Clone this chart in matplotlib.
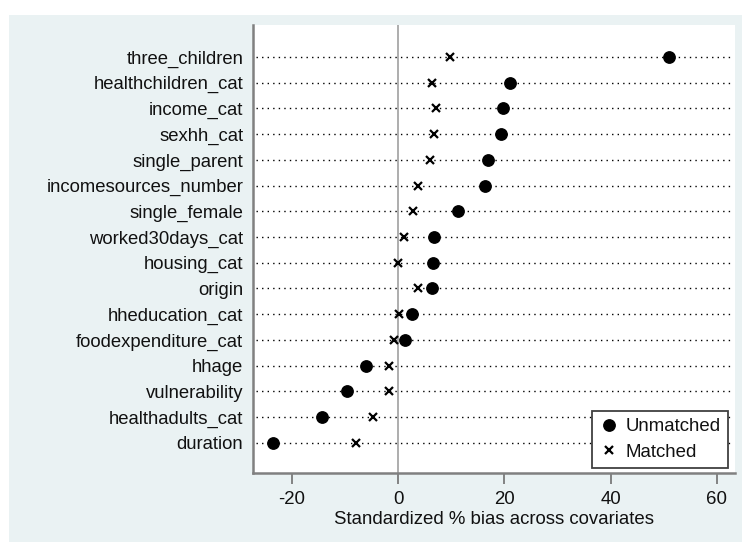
import matplotlib
matplotlib.use("Agg")
import matplotlib.pyplot as plt
from matplotlib.patches import Rectangle

plt.rcParams['font.family'] = ['Liberation Sans', 'DejaVu Sans']

covariates = ["three_children", "healthchildren_cat", "income_cat", "sexhh_cat",
              "single_parent", "incomesources_number", "single_female",
              "worked30days_cat", "housing_cat", "origin", "hheducation_cat",
              "foodexpenditure_cat", "hhage", "vulnerability", "healthadults_cat",
              "duration"]
unmatched = [51.0, 21.1, 19.8, 19.3, 17.0, 16.3, 11.2, 6.8, 6.5, 6.3, 2.6, 1.3,
             -6.1, -9.6, -14.4, -23.6]
matched = [9.8, 6.4, 7.1, 6.8, 6.0, 3.7, 2.8, 1.1, -0.1, 3.8, 0.2, -0.8,
           -1.7, -1.8, -4.7, -7.9]
xticks = [-20, 0, 20, 40, 60]
xlabel = "Standardized % bias across covariates"

W, H = 742, 542
fig = plt.figure(figsize=(W / 100, H / 100), dpi=100)
fig.patch.set_facecolor("white")
bg = "#EAF2F3"
fig.patches.append(Rectangle((9 / W, 0), 1 - 9 / W, 1 - 15 / H,
                             transform=fig.transFigure, facecolor=bg,
                             edgecolor="none", zorder=-10))

ax = fig.add_axes([253 / W, 1 - 473 / H, (735 - 253) / W, (473 - 25) / H])
ax.set_facecolor("white")

n = len(covariates)
ys = [n - 1 - i for i in range(n)]
xmin, xmax = -27.3, 63.4
ax.set_xlim(xmin, xmax)
ax.set_ylim(-1.17, n - 1 + 1.24)

ax.hlines(ys, xmin + 0.6, xmax - 0.4, colors="black", linestyles=(0, (1, 3)),
          linewidth=1.0, zorder=1)
ax.axvline(0, color="#a0a0a0", linewidth=1.2, zorder=0.5)

ax.plot(unmatched, ys, linestyle="none", marker="o", markersize=8.2,
        color="black", label="Unmatched", zorder=3)
ax.plot(matched, ys, linestyle="none", marker="x", markersize=5.3,
        markeredgewidth=1.6, color="black", label="Matched", zorder=3)

ax.set_yticks(ys)
ax.set_yticklabels(covariates, fontsize=13.3, color="#111111")
ax.tick_params(axis="y", length=0, pad=7)
ax.set_xticks(xticks)
ax.set_xticklabels([str(t) for t in xticks], fontsize=13.4, color="#111111")
ax.tick_params(axis="x", length=8, width=1.2, color="#707070", pad=5)
ax.set_xlabel(xlabel, fontsize=13.4, color="#111111", labelpad=2)

for s in ["top", "right"]:
    ax.spines[s].set_visible(False)
for s in ["left", "bottom"]:
    ax.spines[s].set_color("#808080")
    ax.spines[s].set_linewidth(1.8)

leg = ax.legend(loc="lower right", bbox_to_anchor=(0.985, 0.011),
                borderaxespad=0, fontsize=13.4, frameon=True, fancybox=False,
                edgecolor="#404040", framealpha=1, handletextpad=0.3,
                labelspacing=0.45, handlelength=1.1, borderpad=0.4)
leg.get_frame().set_linewidth(1.3)
for t in leg.get_texts():
    t.set_color("#111111")

fig.savefig("out.png", dpi=100)
